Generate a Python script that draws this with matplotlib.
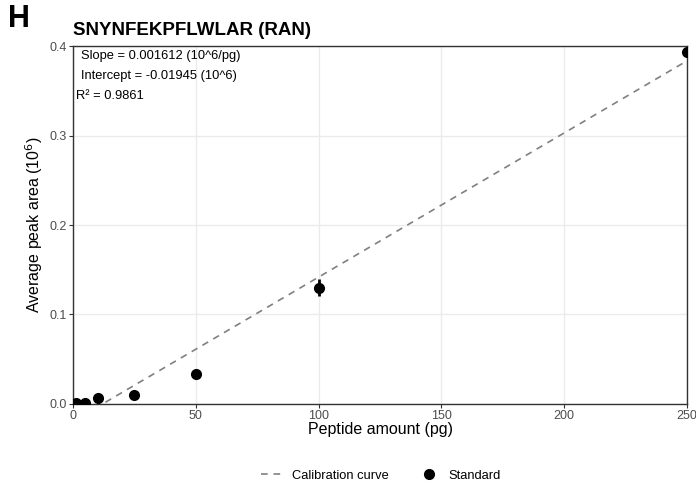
import numpy as np
import matplotlib.pyplot as plt
from matplotlib.lines import Line2D

plt.rcParams['font.family'] = ['Liberation Sans', 'DejaVu Sans']

# standards
amount = [1, 5, 10, 25, 50, 100, 250]
area = [0.0005, 0.0012, 0.0067, 0.0103, 0.0336, 0.130, 0.394]
area_err = [0.0, 0.0, 0.0, 0.0, 0.0, 0.0095, 0.0]

slope = 0.001612
intercept = -0.01945
r2 = 0.9861

fig = plt.figure(figsize=(6.96, 4.86), dpi=100)
ax = fig.add_axes([0.105, 0.169, 0.882, 0.736])

xs = np.linspace(0, 250, 200)
ys = slope * xs + intercept
ax.plot(xs, ys, color='#808080', lw=1.2, ls=(0, (4, 3.5)), zorder=3)
ax.errorbar(amount, area, yerr=area_err, fmt='o', color='black', ms=7,
            elinewidth=2, capsize=0, zorder=4)

ax.set_xlim(0, 250)
ax.set_ylim(0, 0.4)
ax.set_xticks([0, 50, 100, 150, 200, 250])
ax.set_yticks([0.0, 0.1, 0.2, 0.3, 0.4])
ax.set_yticklabels(['0.0', '0.1', '0.2', '0.3', '0.4'])
ax.grid(True, color='#EBEBEB', lw=1)
ax.set_axisbelow(True)
for s in ax.spines.values():
    s.set_color('#333333')
    s.set_linewidth(1)
ax.tick_params(colors='#333333', labelcolor='#4D4D4D', labelsize=9, length=3, pad=1.5)

ax.set_xlabel('Peptide amount (pg)', fontsize=11.5, labelpad=0)
ax.set_ylabel('Average peak area (10$^6$)', fontsize=11.5, labelpad=3)

ax.text(0.013, 0.99, 'Slope = %.6f (10^6/pg)' % slope, transform=ax.transAxes,
        fontsize=9.3, va='top', ha='left')
ax.text(0.013, 0.934, 'Intercept = %.5f (10^6)' % intercept, transform=ax.transAxes,
        fontsize=9.3, va='top', ha='left')
ax.text(0.005, 0.878, 'R² = %.4f' % r2, transform=ax.transAxes,
        fontsize=9.3, va='top', ha='left')

fig.text(0.105, 0.937, 'SNYNFEKPFLWLAR (RAN)', fontsize=13.5, fontweight='bold',
         ha='left', va='center')
fig.text(0.012, 0.96, 'H', fontsize=22, fontweight='bold', ha='left', va='center')

handles = [Line2D([], [], color='#808080', ls=(0, (4, 3.5)), lw=1.2),
           Line2D([], [], color='black', marker='o', ls='none', ms=7)]
fig.legend(handles, ['Calibration curve', 'Standard'], loc='center',
           bbox_to_anchor=(0.547, 0.021), ncol=2, frameon=False, fontsize=9.3,
           columnspacing=2.2, handlelength=1.8, handletextpad=0.6)

fig.savefig('out.png', dpi=100)
